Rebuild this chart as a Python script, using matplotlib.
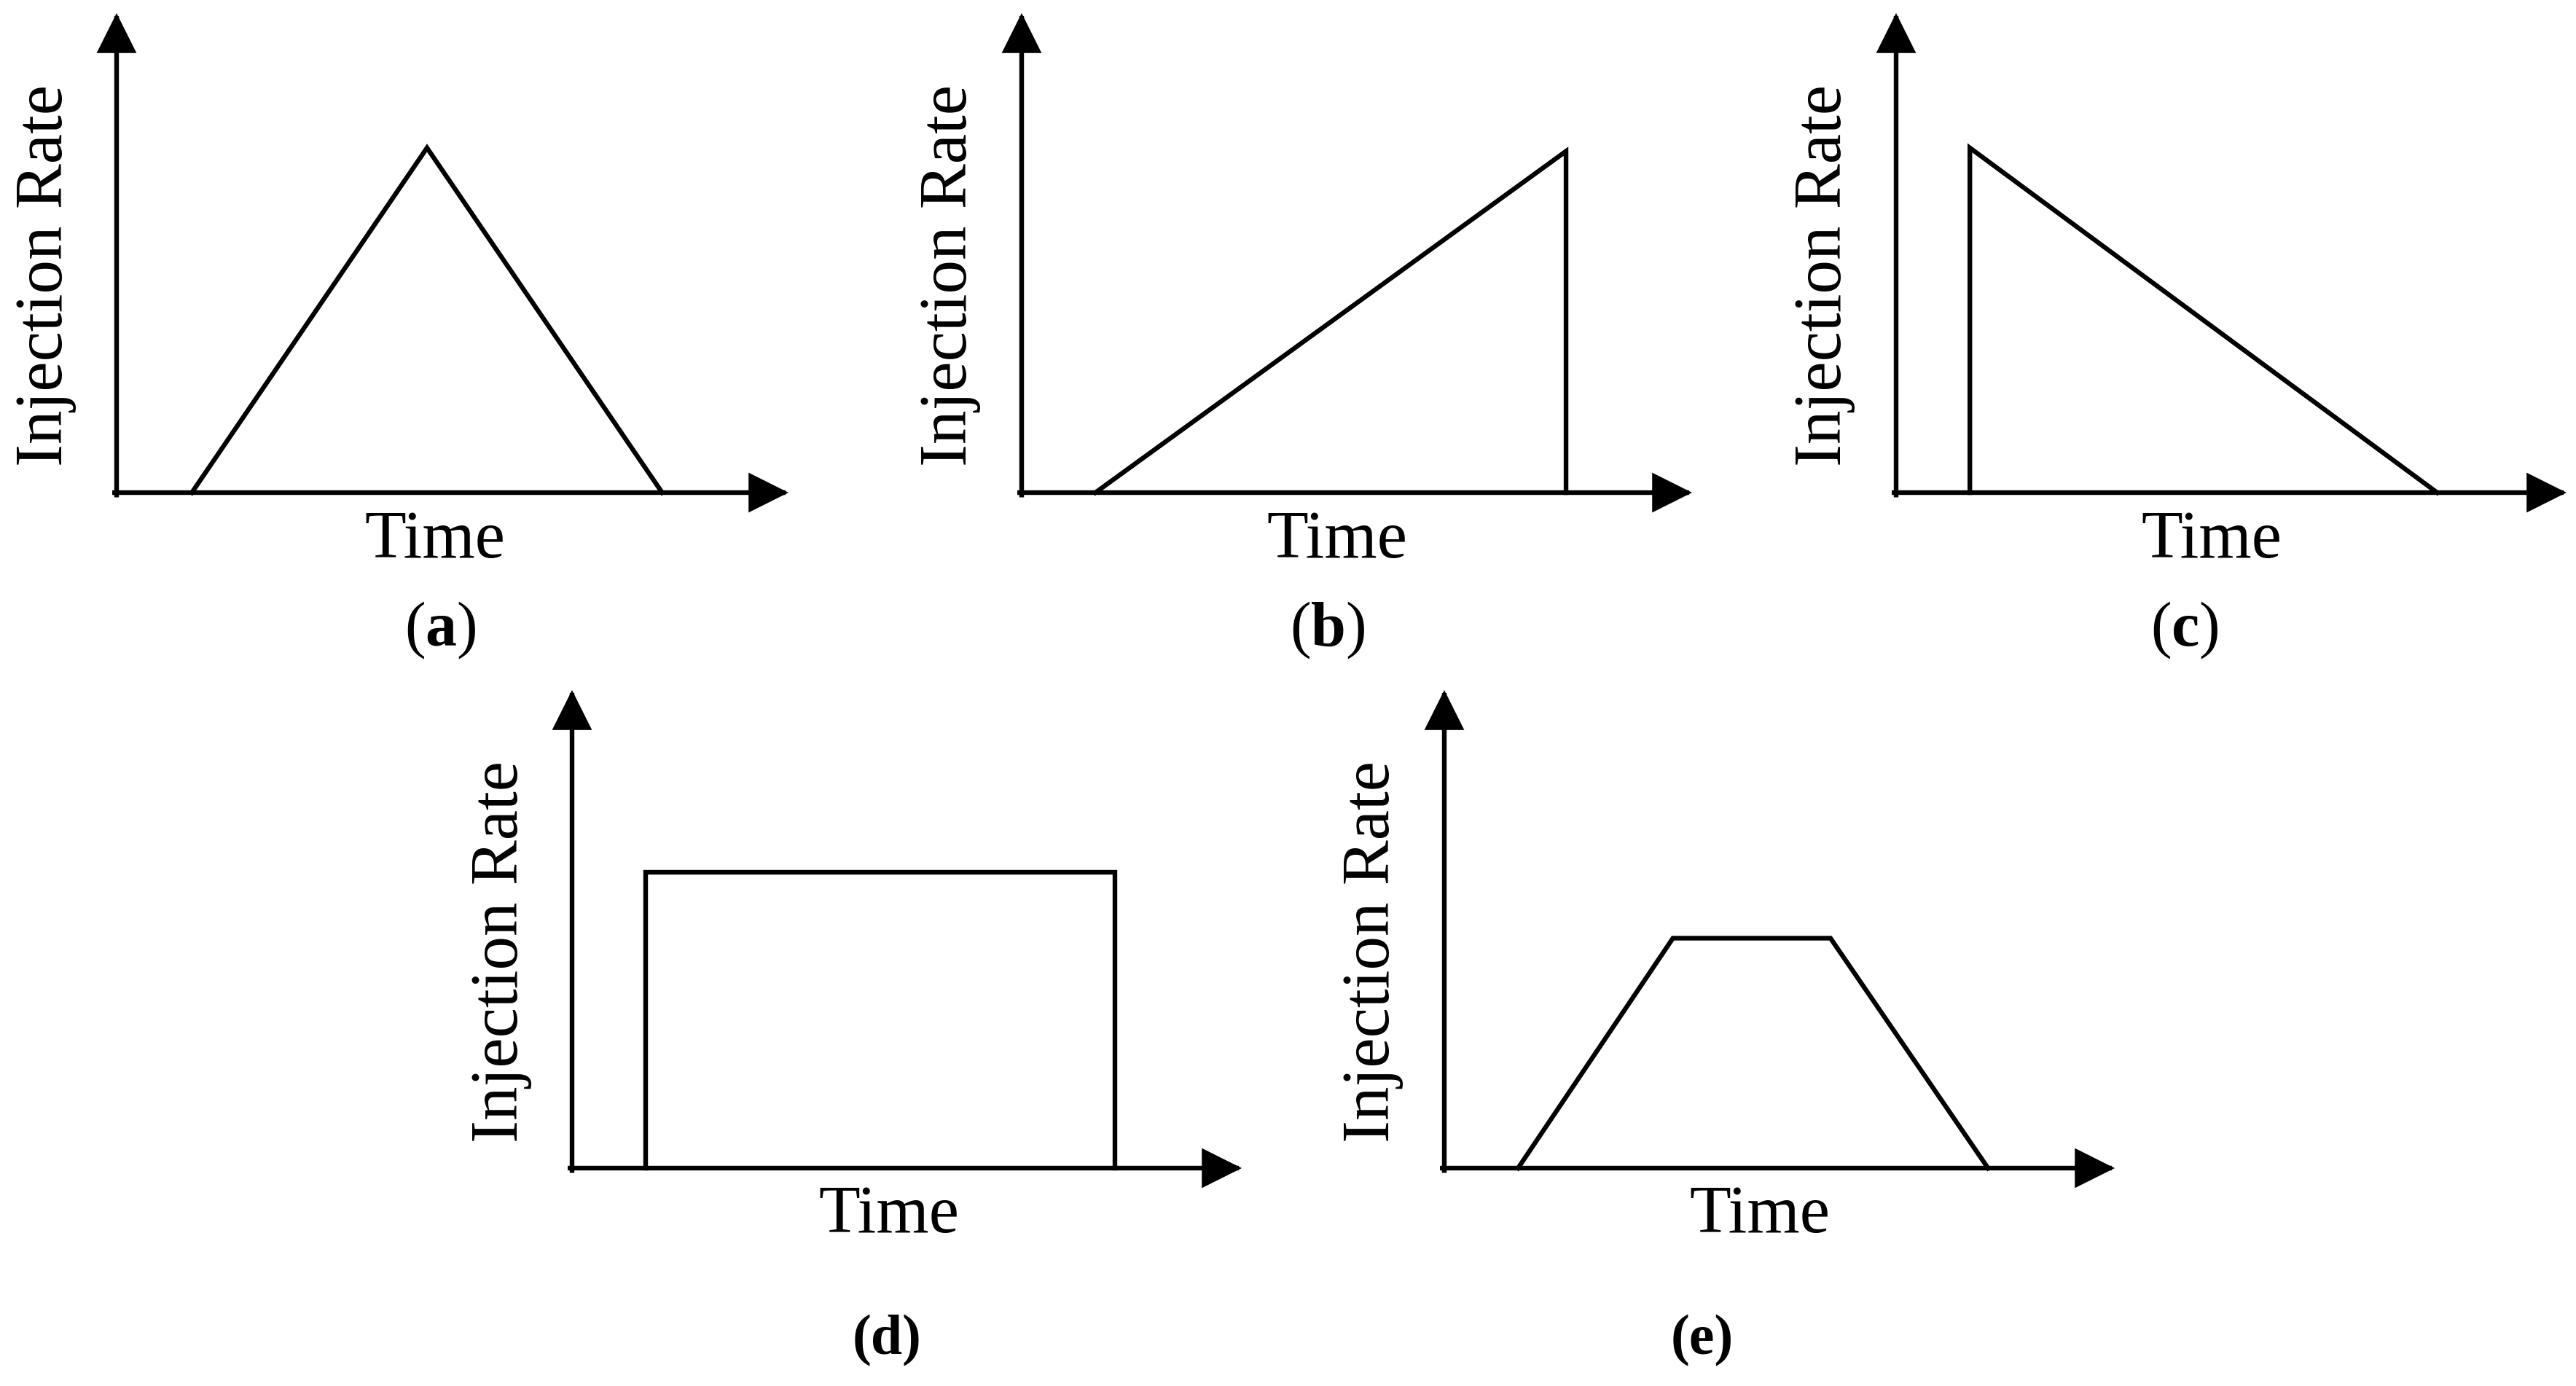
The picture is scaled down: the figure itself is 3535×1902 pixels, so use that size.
import matplotlib
matplotlib.use("Agg")
import matplotlib.pyplot as plt

plt.rcParams['font.family'] = ['Liberation Serif', 'DejaVu Serif']
plt.rcParams['mathtext.fontset'] = 'custom'
plt.rcParams['mathtext.rm'] = 'Liberation Serif'
plt.rcParams['mathtext.bf'] = 'Liberation Serif:bold'

# ---- data: injection-rate profiles (time / rate in arbitrary units, axis length = 10)
panel_ids = ['a', 'b', 'c', 'd', 'e']
time_a = [1.12, 4.62, 8.12]
rate_a = [0.0, 7.19, 0.0]
time_b = [1.10, 8.12, 8.12]
rate_b = [0.0, 7.12, 0.0]
time_c = [1.10, 1.10, 8.07]
rate_c = [0.0, 7.19, 0.0]
time_d = [1.10, 1.10, 8.11, 8.11]
rate_d = [0.0, 6.19, 6.19, 0.0]
time_e = [1.10, 3.41, 5.76, 8.11]
rate_e = [0.0, 4.81, 4.81, 0.0]
x_label = 'Time'
y_label = 'Injection Rate'

W, H = 3535, 1902
fig = plt.figure(figsize=(W / 100, H / 100), dpi=100)
fig.patch.set_facecolor('white')

# layout (pixels): origin x, origin y, x-axis tip, y-axis tip, label centres
layout = {
    'a': dict(ox=160, oy=676, xt=1082, yt=18, ylx=63, tx=597, ty=742, px=604, py=865),
    'b': dict(ox=1402, oy=676, xt=2322, yt=18, ylx=1303, tx=1835, ty=742, px=1822, py=865),
    'c': dict(ox=2602, oy=676, xt=3522, yt=18, ylx=2503, tx=3035, ty=742, px=2998, py=865),
    'd': dict(ox=785, oy=1603, xt=1704, yt=947, ylx=688, tx=1220, ty=1669, px=1217, py=1840),
    'e': dict(ox=1982, oy=1603, xt=2902, yt=947, ylx=1884, tx=2415, ty=1669, px=2336, py=1840),
}
series = {'a': (time_a, rate_a), 'b': (time_b, rate_b), 'c': (time_c, rate_c),
          'd': (time_d, rate_d), 'e': (time_e, rate_e)}

LW = 4.6
FS = 67

for pid in panel_ids:
    L = layout[pid]
    left = L['ox'] / W
    bottom = 1 - L['oy'] / H
    width = (L['xt'] - L['ox']) / W
    height = (L['oy'] - L['yt']) / H
    ax = fig.add_axes([left, bottom, width, height])
    ax.set_xlim(0, 10)
    ax.set_ylim(0, 10)
    ax.axis('off')
    t, r = series[pid]
    ax.plot(t, r, color='black', lw=LW, solid_joinstyle='miter', clip_on=False)
    ap = dict(arrowstyle='-|>', color='black', lw=LW, mutation_scale=80,
              shrinkA=0, shrinkB=0, joinstyle='miter', capstyle='projecting')
    ax.annotate('', xy=(10, 0), xytext=(-0.03, 0), arrowprops=ap, annotation_clip=False)
    ax.annotate('', xy=(0, 10), xytext=(0, -0.05), arrowprops=ap, annotation_clip=False)

    cy = (L['oy'] + L['yt']) / 2 + 31
    fig.text(L['ylx'] / W, 1 - cy / H, y_label, rotation=90, fontsize=FS,
             ha='center', va='center')
    fig.text(L['tx'] / W, 1 - L['ty'] / H, x_label, fontsize=FS, ha='center', va='center')
    if pid in ('a', 'b', 'c'):
        lab = '(' + r'$\mathbf{' + pid + '}$' + ')'
        fig.text(L['px'] / W, 1 - L['py'] / H, lab, fontsize=62, ha='center', va='center')
    else:
        fig.text(L['px'] / W, 1 - L['py'] / H, '(' + pid + ')', fontsize=56,
                 fontweight='bold', ha='center', va='center')

fig.savefig('out.png', dpi=100, facecolor='white')
